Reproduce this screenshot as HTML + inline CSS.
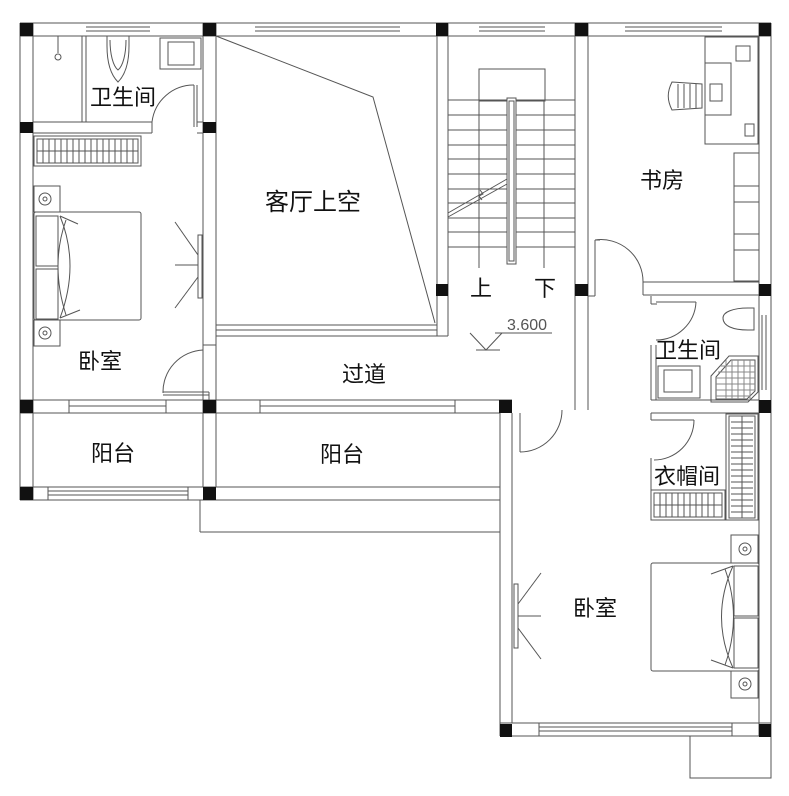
<!DOCTYPE html>
<html><head><meta charset="utf-8"><style>
html,body{margin:0;padding:0;background:#fff;width:789px;height:796px;overflow:hidden}
svg{display:block}
text{font-family:"Liberation Sans","Noto Sans CJK SC",sans-serif;fill:#111}
</style></head><body>
<svg width="789" height="796" viewBox="0 0 789 796" xmlns="http://www.w3.org/2000/svg">
<g fill="none" stroke="#555" stroke-width="1">
<line x1="20" y1="23" x2="771" y2="23"/><line x1="20" y1="36" x2="771" y2="36"/>
<line x1="86" y1="27" x2="150" y2="27"/><line x1="86" y1="31" x2="150" y2="31"/>
<line x1="255" y1="27" x2="400" y2="27"/><line x1="255" y1="31" x2="400" y2="31"/>
<line x1="479" y1="27" x2="545" y2="27"/><line x1="479" y1="31" x2="545" y2="31"/>
<line x1="625" y1="27" x2="722" y2="27"/><line x1="625" y1="31" x2="722" y2="31"/>
<line x1="20" y1="23" x2="20" y2="500"/><line x1="33" y1="23" x2="33" y2="500"/>
<line x1="203" y1="23" x2="203" y2="400"/><line x1="216" y1="23" x2="216" y2="400"/>
<line x1="437" y1="23" x2="437" y2="336"/><line x1="448" y1="23" x2="448" y2="336"/>
<line x1="575" y1="23" x2="575" y2="410"/><line x1="588" y1="23" x2="588" y2="410"/>
<line x1="759" y1="23" x2="759" y2="736"/><line x1="771" y1="23" x2="771" y2="736"/>
<line x1="33" y1="122" x2="152" y2="122"/><line x1="33" y1="133" x2="152" y2="133"/>
<line x1="152" y1="122" x2="152" y2="133"/>
<line x1="82" y1="36" x2="82" y2="122"/><line x1="86" y1="36" x2="86" y2="122"/>
<path d="M152 122 A42 42 0 0 1 194 85"/>
<line x1="194" y1="85" x2="194" y2="127"/><line x1="197" y1="85" x2="197" y2="127"/>
<line x1="197" y1="122" x2="203" y2="122"/><line x1="197" y1="133" x2="203" y2="133"/>
<path d="M107 36 v10 c0 20 5 30 11 36 c6 -6 11 -16 11 -36 v-10"/>
<path d="M110 40 c0 14 3 26 8 30 c5 -4 8 -16 8 -30"/>
<rect x="160" y="38" width="41" height="31"/><rect x="168" y="42" width="26" height="23"/>
<line x1="58" y1="36" x2="58" y2="53"/><circle cx="58" cy="57" r="3"/>
<rect x="34" y="136" width="107" height="30"/><rect x="37" y="139" width="101" height="24"/>
<line x1="37" y1="151" x2="138" y2="151"/>
<path d="M43 139v24M49 139v24M55 139v24M61 139v24M67 139v24M73 139v24M79 139v24M85 139v24M91 139v24M97 139v24M103 139v24M109 139v24M115 139v24M121 139v24M127 139v24M133 139v24"/>
<rect x="34" y="186" width="26" height="26"/><circle cx="45" cy="199" r="6"/><circle cx="45" cy="199" r="2"/>
<rect x="34" y="320" width="26" height="26"/><circle cx="45" cy="333" r="6"/><circle cx="45" cy="333" r="2"/>
<rect x="34" y="212" width="107" height="108" rx="2"/>
<rect x="36" y="216" width="22" height="50"/><rect x="36" y="269" width="22" height="50"/>
<path d="M60 216 Q80 265 60 318"/><path d="M66 220 Q50 265 66 315"/>
<path d="M60 216 L78 224 M60 318 L80 310"/>
<rect x="198" y="235" width="4" height="63"/>
<line x1="175" y1="222" x2="198" y2="255"/><line x1="175" y1="265" x2="198" y2="265"/><line x1="175" y1="308" x2="198" y2="277"/>
<path d="M216 36 L373 97 L435 323"/>
<line x1="216" y1="325" x2="437" y2="325"/><line x1="216" y1="336" x2="448" y2="336"/>
<line x1="216" y1="330" x2="437" y2="330"/>
<line x1="203" y1="345" x2="216" y2="345"/>
<path d="M163 393 A42 42 0 0 1 203 350"/>
<line x1="163" y1="392" x2="209" y2="392"/><line x1="163" y1="395" x2="209" y2="395"/>
<line x1="209" y1="392" x2="209" y2="400"/>
<line x1="20" y1="400" x2="512" y2="400"/><line x1="20" y1="413" x2="500" y2="413"/>
<rect x="33" y="400" width="36" height="13"/><rect x="166" y="400" width="37" height="13"/>
<rect x="216" y="400" width="44" height="13"/><rect x="455" y="400" width="45" height="13"/>
<line x1="69" y1="406" x2="166" y2="406"/><line x1="260" y1="406" x2="455" y2="406"/>
<line x1="20" y1="487" x2="500" y2="487"/><line x1="20" y1="500" x2="500" y2="500"/>
<line x1="48" y1="491" x2="188" y2="491"/><line x1="48" y1="495" x2="188" y2="495"/>
<line x1="48" y1="487" x2="48" y2="500"/><line x1="188" y1="487" x2="188" y2="500"/>
<line x1="203" y1="413" x2="203" y2="487"/><line x1="216" y1="413" x2="216" y2="487"/>
<line x1="200" y1="500" x2="200" y2="532"/><line x1="200" y1="532" x2="500" y2="532"/>
<rect x="479" y="69" width="66" height="32"/>
<g>
<line x1="448" y1="100" x2="575" y2="100"/><line x1="448" y1="115" x2="575" y2="115"/>
<line x1="448" y1="130" x2="575" y2="130"/><line x1="448" y1="145" x2="575" y2="145"/>
<line x1="448" y1="159" x2="575" y2="159"/><line x1="448" y1="174" x2="575" y2="174"/>
<line x1="448" y1="189" x2="575" y2="189"/><line x1="448" y1="203" x2="575" y2="203"/>
<line x1="448" y1="218" x2="575" y2="218"/><line x1="448" y1="232" x2="575" y2="232"/>
<line x1="448" y1="247" x2="575" y2="247"/>
</g>
<rect x="507" y="98" width="9" height="166" fill="#fff"/><rect x="509" y="101" width="5" height="160"/>
<line x1="479" y1="101" x2="479" y2="268"/><line x1="544" y1="101" x2="544" y2="268"/>
<path d="M448 213 L507 179 M448 217 L507 184" />
<path d="M480 190 l3 4 l-4 2 l3 4"/>
<line x1="495" y1="333" x2="552" y2="333"/>
<path d="M470 333 L486 350 L502 333"/><line x1="476" y1="350" x2="500" y2="350"/>
<line x1="512" y1="413" x2="512" y2="452"/><line x1="520" y1="413" x2="520" y2="452"/>
<path d="M520 452 A42 42 0 0 0 562 410"/>
<line x1="595" y1="240" x2="595" y2="296"/><line x1="588" y1="296" x2="595" y2="296"/>
<line x1="595" y1="240" x2="600" y2="240"/>
<path d="M595 240 A42 42 0 0 1 643 282"/>
<line x1="643" y1="282" x2="759" y2="282"/><line x1="643" y1="295" x2="759" y2="295"/>
<line x1="643" y1="282" x2="643" y2="295"/>
<rect x="705" y="37" width="53" height="107"/><rect x="705" y="63" width="26" height="52"/>
<rect x="736" y="46" width="14" height="15"/>
<rect x="710" y="84" width="12" height="17"/>
<rect x="745" y="124" width="9" height="12"/>
<path d="M672 82 c-5 10 -5 18 0 28 l30 -2 l0 -24 z"/>
<line x1="678" y1="84" x2="678" y2="108"/><line x1="684" y1="84" x2="684" y2="108"/><line x1="690" y1="84" x2="690" y2="108"/><line x1="696" y1="84" x2="696" y2="108"/>
<rect x="734" y="153" width="25" height="128"/>
<line x1="734" y1="186" x2="759" y2="186"/><line x1="734" y1="202" x2="759" y2="202"/><line x1="734" y1="234" x2="759" y2="234"/><line x1="734" y1="250" x2="759" y2="250"/>
<line x1="651" y1="296" x2="651" y2="304"/><line x1="651" y1="304" x2="657" y2="304"/>
<path d="M696 302 A40 40 0 0 1 656 340"/>
<line x1="656" y1="302" x2="696" y2="302"/>
<line x1="651" y1="345" x2="651" y2="400"/><line x1="656" y1="345" x2="656" y2="400"/>
<path d="M723 318 c0 -6 10 -10 25 -10 l6 0 l0 22 l-6 0 c-15 0 -25 -4 -25 -12 z"/>
<line x1="762" y1="315" x2="762" y2="390"/><line x1="766" y1="315" x2="766" y2="390"/>
<rect x="658" y="366" width="42" height="32"/><rect x="664" y="370" width="28" height="22"/>
<path d="M711 376 l18 -20 l29 0 l0 36 l-10 10 l-37 0 z"/>
<path d="M716 377 l15 -17 l24 0 l0 31 l-8 8 l-31 0 z"/>
<path d="M720 366h35M718 372h37M716 378h39M716 384h39M716 390h39M716 396h34M726 360v39M732 360v39M738 360v39M744 360v39M750 360v39" stroke="#888"/>
<line x1="651" y1="400" x2="759" y2="400"/><line x1="651" y1="413" x2="759" y2="413"/>
<line x1="651" y1="413" x2="651" y2="420"/><line x1="651" y1="420" x2="656" y2="420"/>
<path d="M694 420 A40 40 0 0 1 654 460"/>
<line x1="656" y1="420" x2="694" y2="420"/>
<rect x="651" y="490" width="74" height="30"/><rect x="654" y="493" width="68" height="24"/>
<line x1="654" y1="505" x2="722" y2="505"/>
<path d="M660 493v24M666 493v24M672 493v24M678 493v24M684 493v24M690 493v24M696 493v24M702 493v24M708 493v24M714 493v24"/>
<rect x="726" y="414" width="32" height="106"/><rect x="729" y="416" width="26" height="102"/>
<line x1="742" y1="416" x2="742" y2="518"/>
<path d="M731 422h22M731 428h22M731 434h22M731 440h22M731 446h22M731 452h22M731 458h22M731 464h22M731 470h22M731 476h22M731 482h22M731 488h22M731 494h22M731 500h22M731 506h22M731 512h22"/>
<line x1="651" y1="458" x2="651" y2="490"/>
<line x1="500" y1="413" x2="500" y2="736"/><line x1="512" y1="452" x2="512" y2="723"/>
<line x1="500" y1="723" x2="771" y2="723"/><line x1="500" y1="736" x2="771" y2="736"/>
<line x1="539" y1="727" x2="732" y2="727"/><line x1="539" y1="731" x2="732" y2="731"/>
<line x1="539" y1="723" x2="539" y2="736"/><line x1="732" y1="723" x2="732" y2="736"/>
<rect x="514" y="584" width="4" height="64"/>
<line x1="541" y1="573" x2="518" y2="604"/><line x1="541" y1="616" x2="518" y2="616"/><line x1="541" y1="659" x2="518" y2="628"/>
<rect x="731" y="535" width="27" height="28"/><circle cx="745" cy="549" r="6"/><circle cx="745" cy="549" r="2"/>
<rect x="731" y="671" width="27" height="27"/><circle cx="745" cy="684" r="6"/><circle cx="745" cy="684" r="2"/>
<rect x="651" y="563" width="108" height="108" rx="2"/>
<rect x="734" y="566" width="24" height="50"/><rect x="734" y="618" width="24" height="50"/>
<path d="M733 566 Q710 617 733 668"/><path d="M725 569 Q742 617 725 665"/>
<path d="M733 566 L711 574 M733 668 L711 660"/>
<rect x="690" y="736" width="81" height="42"/>
</g>
<g fill="#111">
<rect x="20" y="23" width="13" height="13"/><rect x="203" y="23" width="13" height="13"/>
<rect x="436" y="23" width="12" height="13"/><rect x="575" y="23" width="13" height="13"/>
<rect x="759" y="23" width="12" height="13"/>
<rect x="20" y="122" width="13" height="11"/><rect x="203" y="122" width="13" height="11"/>
<rect x="436" y="284" width="12" height="12"/><rect x="575" y="284" width="13" height="12"/>
<rect x="759" y="284" width="12" height="12"/>
<rect x="20" y="400" width="13" height="13"/><rect x="203" y="400" width="13" height="13"/>
<rect x="499" y="400" width="13" height="13"/><rect x="759" y="400" width="12" height="13"/>
<rect x="20" y="487" width="13" height="13"/><rect x="203" y="487" width="13" height="13"/>
<rect x="500" y="724" width="12" height="13"/><rect x="759" y="724" width="12" height="13"/>
</g>
<g font-size="22">
<text x="90" y="105">卫生间</text>
<text x="640" y="188">书房</text>
<text x="470" y="296">上</text>
<text x="534" y="296">下</text>
<text x="78" y="369">卧室</text>
<text x="342" y="382">过道</text>
<text x="655" y="358">卫生间</text>
<text x="91" y="461">阳台</text>
<text x="320" y="462">阳台</text>
<text x="654" y="484">衣帽间</text>
<text x="573" y="616">卧室</text>
</g>
<text x="265" y="210" font-size="24">客厅上空</text>
<text x="507" y="330" font-size="16" style="fill:#555">3.600</text>
</svg>
</body></html>
